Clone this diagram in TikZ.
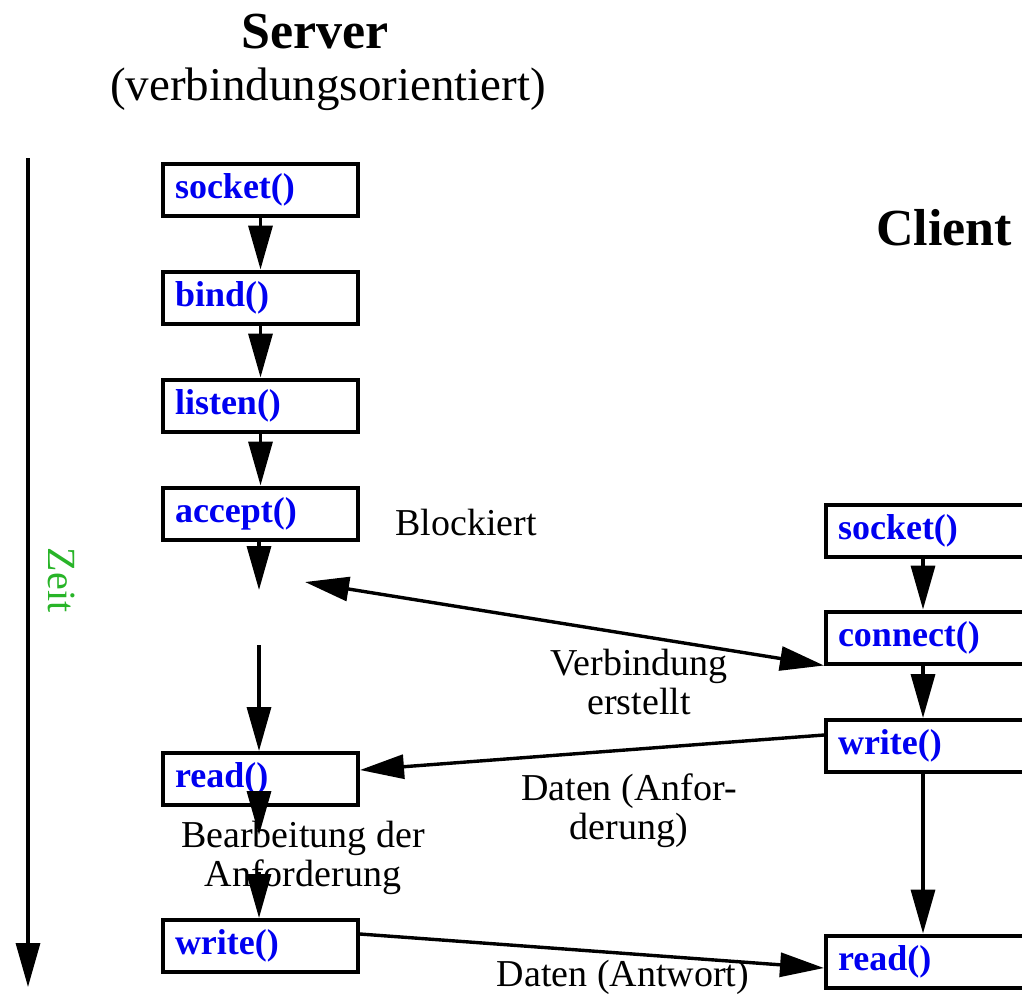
\documentclass[tikz,border=0pt]{standalone}
\usepackage{fontspec}
\setmainfont{Liberation Serif}
\usetikzlibrary{arrows.meta}
\definecolor{fnBlue}{RGB}{0,0,240}
\definecolor{zeitGreen}{RGB}{40,180,40}
\newcommand{\lblfont}{\fontsize{19}{19.5}\selectfont}

\begin{document}
\begin{tikzpicture}[x=0.5pt,y=-0.5pt,>={Triangle[length=22pt,width=12pt]},
  fn/.style ={draw,line width=2pt,anchor=west,minimum height=26pt,inner xsep=6pt,text width=85.5pt,align=left,text=fnBlue,font=\fontsize{18}{18}\selectfont\bfseries},
  cfn/.style={fn,text width=108pt},
  lbl/.style={align=center,font=\lblfont},
  flow/.style={->,line width=1.7pt}]
\useasboundingbox (0,0) rectangle (1022,998);
\clip (0,0) rectangle (1022,998);
% titles
\node[font=\fontsize{26}{26}\selectfont\bfseries] (srv)  at (315,32)  {Server};
\node[font=\fontsize{23.5}{23.5}\selectfont]      (srvs) at (328,89)  {(verbindungsorientiert)};
\node[font=\fontsize{26}{26}\selectfont\bfseries] (cli)  at (944,228) {Client};
% time axis
\coordinate (t0) at (28,158);
\coordinate (t1) at (28,987);
\draw[flow] (t0) -- (t1);
\node[text=zeitGreen,rotate=-90,font=\fontsize{20}{20}\selectfont] (zeit) at (62,580) {Zeit};
% server side
\node[fn] (ssocket) at (161,190)   {socket()};
\node[fn] (sbind)   at (161,297.5) {bind()};
\node[fn] (slisten) at (161,405.5) {listen()};
\node[fn] (saccept) at (161,513.5) {accept()};
\node[fn] (sread)   at (161,779)   {read()};
\node[fn] (swrite)  at (161,946)   {write()};
\coordinate (wait0) at (259,590);
\coordinate (wait1) at (259,645);
\coordinate (work0) at (259,835);
\coordinate (work1) at (259,872);
\coordinate (blk)   at (305,582);
\draw[flow] (ssocket) -- (sbind);
\draw[flow] (sbind) -- (slisten);
\draw[flow] (slisten) -- (saccept);
\draw[flow] (saccept.south -| wait0) -- (wait0);
\draw[flow] (wait1) -- (sread.north -| wait1);
\draw[flow] (sread.south -| work0) -- (work0);
\draw[flow] (work1) -- (swrite.north -| work1);
\node[lbl] (blocked) at (466,522) {Blockiert};
\node[lbl] (proc)    at (303,858) {Bearbeitung der\\Anforderung};
% client side
\node[cfn] (csocket)  at (824,531)   {socket()};
\node[cfn] (cconnect) at (824,637.5) {connect()};
\node[cfn] (cwrite)   at (824,746)   {write()};
\node[cfn] (cread)    at (824,961.5) {read()};
\draw[flow] ([xshift=-11.5pt]csocket.south) -- ([xshift=-11.5pt]cconnect.north);
\draw[flow] ([xshift=-11.5pt]cconnect.south) -- ([xshift=-11.5pt]cwrite.north);
\draw[flow] ([xshift=-11.5pt]cwrite.south) -- ([xshift=-11.5pt]cread.north);
% messages between both
\draw[flow,<->] (blk) -- (cconnect.south west);
\draw[flow] ([yshift=5.5pt]cwrite.west) -- ([yshift=4.5pt]sread.east);
\draw[flow] ([yshift=6pt]swrite.east) -- ([yshift=-3.25pt]cread.west);
\node[lbl] (conn) at (639,682) {Verbindung\\erstellt};
\node[lbl] (req)  at (629,811) {Daten (Anfor-\\derung)};
\node[lbl] (resp) at (623,977) {Daten (Antwort)};
\end{tikzpicture}
\end{document}
